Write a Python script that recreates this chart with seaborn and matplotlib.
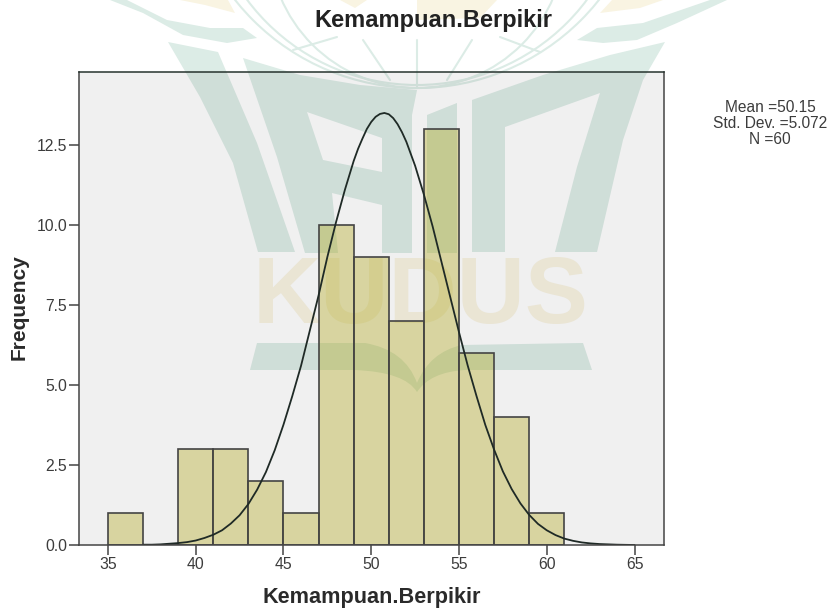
import matplotlib
matplotlib.use('Agg')
import matplotlib.pyplot as plt
import pandas as pd
import seaborn as sns
from matplotlib.patches import Polygon, Circle, PathPatch
from matplotlib.path import Path
from matplotlib.transforms import Affine2D

# histogram
bin_edges = [35, 37, 39, 41, 43, 45, 47, 49, 51, 53, 55, 57, 59, 61]
counts = [1, 0, 3, 3, 2, 1, 10, 9, 7, 13, 6, 4, 1]

# curve heights
curve_x = [37, 37.5, 38, 38.5, 39, 39.5, 40, 40.5, 41, 41.5, 42, 42.5, 43, 43.5, 44, 44.5, 45, 45.5,
           46, 46.5, 47, 47.5, 48, 48.5, 49, 49.25, 49.5, 49.75, 50, 50.25, 50.5, 50.75, 51, 51.25, 51.5, 51.75,
           52, 52.5, 53, 53.5, 54, 54.5, 55, 55.5, 56, 56.5, 57, 57.5, 58, 58.5, 59, 59.5, 60, 60.5,
           61, 61.5, 62, 62.5, 63, 63.5, 64, 65]
curve_y = [0.01, 0.01, 0.02, 0.04, 0.06, 0.09, 0.14, 0.22, 0.32, 0.46, 0.67, 0.93, 1.28, 1.73, 2.28, 2.96, 3.76, 4.65,
           5.6, 6.7, 7.8, 9.0, 10.1, 11.1, 12.0, 12.38, 12.7, 13.0, 13.22, 13.38, 13.47, 13.5, 13.46, 13.34, 13.15, 12.9,
           12.6, 11.85, 10.95, 9.95, 8.85, 7.75, 6.65, 5.6, 4.65, 3.75, 2.98, 2.3, 1.75, 1.3, 0.94, 0.66, 0.46, 0.31,
           0.2, 0.13, 0.08, 0.05, 0.03, 0.02, 0.01, 0.0]

x_ticks = [35, 40, 45, 50, 55, 60, 65]
y_ticks = [0.0, 2.5, 5.0, 7.5, 10.0, 12.5]
stats_lines = ['Mean =50.15', 'Std. Dev. =5.072', 'N =60']
var_name = 'Kemampuan.Berpikir'

W, H = 835, 612
sns.set_style('ticks', rc={'axes.edgecolor': '#444444', 'xtick.color': '#444444', 'ytick.color': '#444444'})
plt.rcParams['font.family'] = ['Liberation Sans', 'DejaVu Sans']

fig = plt.figure(figsize=(W / 100, H / 100), dpi=100, facecolor='white')
px = Affine2D().scale(1 / W, -1 / H).translate(0, 1) + fig.transFigure

# watermark logo behind the chart
green = '#dcece6'
yellow = '#f9f4e2'
wm_polys = [
    ([(168, 42), (218, 52), (257, 143), (295, 252), (258, 252), (233, 163), (200, 97)], green),
    ([(243, 58), (300, 75), (360, 85), (417, 90), (412, 115), (412, 253), (382, 253), (382, 205),
      (332, 193), (338, 253), (305, 253), (277, 157)], green),
    ([(427, 115), (457, 103), (457, 253), (427, 253)], green),
    ([(472, 100), (543, 75), (610, 55), (665, 42), (643, 80), (623, 140), (597, 252), (555, 252),
      (577, 167), (600, 93), (505, 127), (505, 252), (472, 252)], green),
    ([(127, 0), (167, 20), (210, 28), (243, 28), (257, 38), (227, 43), (183, 35), (143, 13), (110, 0)], green),
    ([(577, 40), (597, 28), (643, 23), (710, 0), (727, 0), (677, 23), (637, 40), (603, 43)], green),
    ([(417, 0), (497, 0), (480, 18), (417, 20)], yellow),
    ([(180, 0), (228, 0), (235, 13), (205, 5)], yellow),
    ([(340, 0), (367, 0), (355, 8)], yellow),
    ([(600, 13), (612, 0), (663, 0), (640, 8)], yellow),
]
for pts, c in wm_polys:
    fig.add_artist(Polygon(pts, closed=True, fc=c, ec='none', transform=px, zorder=-2))

# white hole of the A
fig.add_artist(Polygon([(307, 112), (382, 138), (382, 172), (323, 160)], fc='white', ec='none',
                       transform=px, zorder=-1.5))

# band and open book under the name
band = [(250, 370), (257, 343), (365, 343), (405, 350), (417, 383), (430, 352), (462, 345), (583, 343),
        (592, 370), (465, 370), (430, 372), (417, 392), (405, 372), (355, 370), (250, 370)]
band_codes = [Path.MOVETO, Path.LINETO, Path.LINETO, Path.CURVE3, Path.CURVE3, Path.CURVE3, Path.CURVE3,
              Path.LINETO, Path.LINETO, Path.LINETO, Path.CURVE3, Path.CURVE3, Path.CURVE3, Path.CURVE3,
              Path.CLOSEPOLY]
fig.add_artist(PathPatch(Path(band, band_codes), fc=green, ec='none', transform=px, zorder=-2))

# globe lines
for center, r in (((417, -144), 232), ((417, -127), 212), ((417, -60), 148)):
    fig.add_artist(Circle(center, r, fc='none', ec=green, lw=1.5, transform=px, zorder=-2))
for xs, ys in (([417, 417], [40, 88]), ([363, 390], [40, 80]), ([472, 447], [40, 80]),
               ([293, 337], [50, 37]), ([540, 500], [52, 37])):
    fig.add_artist(plt.Line2D(xs, ys, color=green, lw=1.5, transform=px, zorder=-2))

fig.text(421, 299, 'KUDUS', transform=px, ha='center', va='center', color=yellow,
         fontsize=68, fontweight='bold', zorder=-2)

ax = fig.add_axes([79 / W, 1 - 545 / H, (664 - 79) / W, (545 - 72) / H])
ax.set_facecolor((0, 0, 0, 0.06))

df = pd.DataFrame({'left': bin_edges[:-1], 'count': counts})
sns.histplot(data=df, x='left', weights='count', bins=bin_edges, ax=ax,
             color='#b4ac28', edgecolor='#444444', linewidth=1.2)
for p in ax.patches:
    p.set_alpha(None)
    p.set_facecolor((180 / 255, 172 / 255, 40 / 255, 0.4))
    p.set_edgecolor('#444444')

curve = pd.DataFrame({'x': curve_x, 'y': curve_y})
sns.lineplot(data=curve, x='x', y='y', ax=ax, color='#1f2a26', lw=1.3, sort=False, errorbar=None)

ax.set_xlim(33.35, 66.68)
ax.set_ylim(0, 14.78)
ax.set_xticks(x_ticks)
ax.set_yticks(y_ticks)
ax.set_yticklabels([f'{v:.1f}' for v in y_ticks])
ax.tick_params(axis='both', length=7.5, width=1.1, labelsize=11.3, pad=1, labelcolor='#3c3c3c')
for s in ax.spines.values():
    s.set_visible(True)
    s.set_linewidth(1.1)
ax.spines['top'].set_color('#26332e')

ax.set_xlabel('')
ax.set_ylabel('')
fig.text(372, 597, var_name, transform=px, ha='center', va='center', fontsize=15.6,
         fontweight='bold', color='#2a2a2a')
fig.text(19, 307, 'Frequency', transform=px, ha='center', va='center', rotation=90, fontsize=15,
         fontweight='bold', color='#2a2a2a')
fig.text(433, 20, var_name, transform=px, ha='center', va='center', fontsize=17,
         fontweight='bold', color='#222222')
for i, line in enumerate(stats_lines):
    fig.text(770, 108 + 15.5 * i, line, transform=px, ha='center', va='center', fontsize=11.2, color='#3c3c3c')

fig.savefig('out.png', dpi=100)
